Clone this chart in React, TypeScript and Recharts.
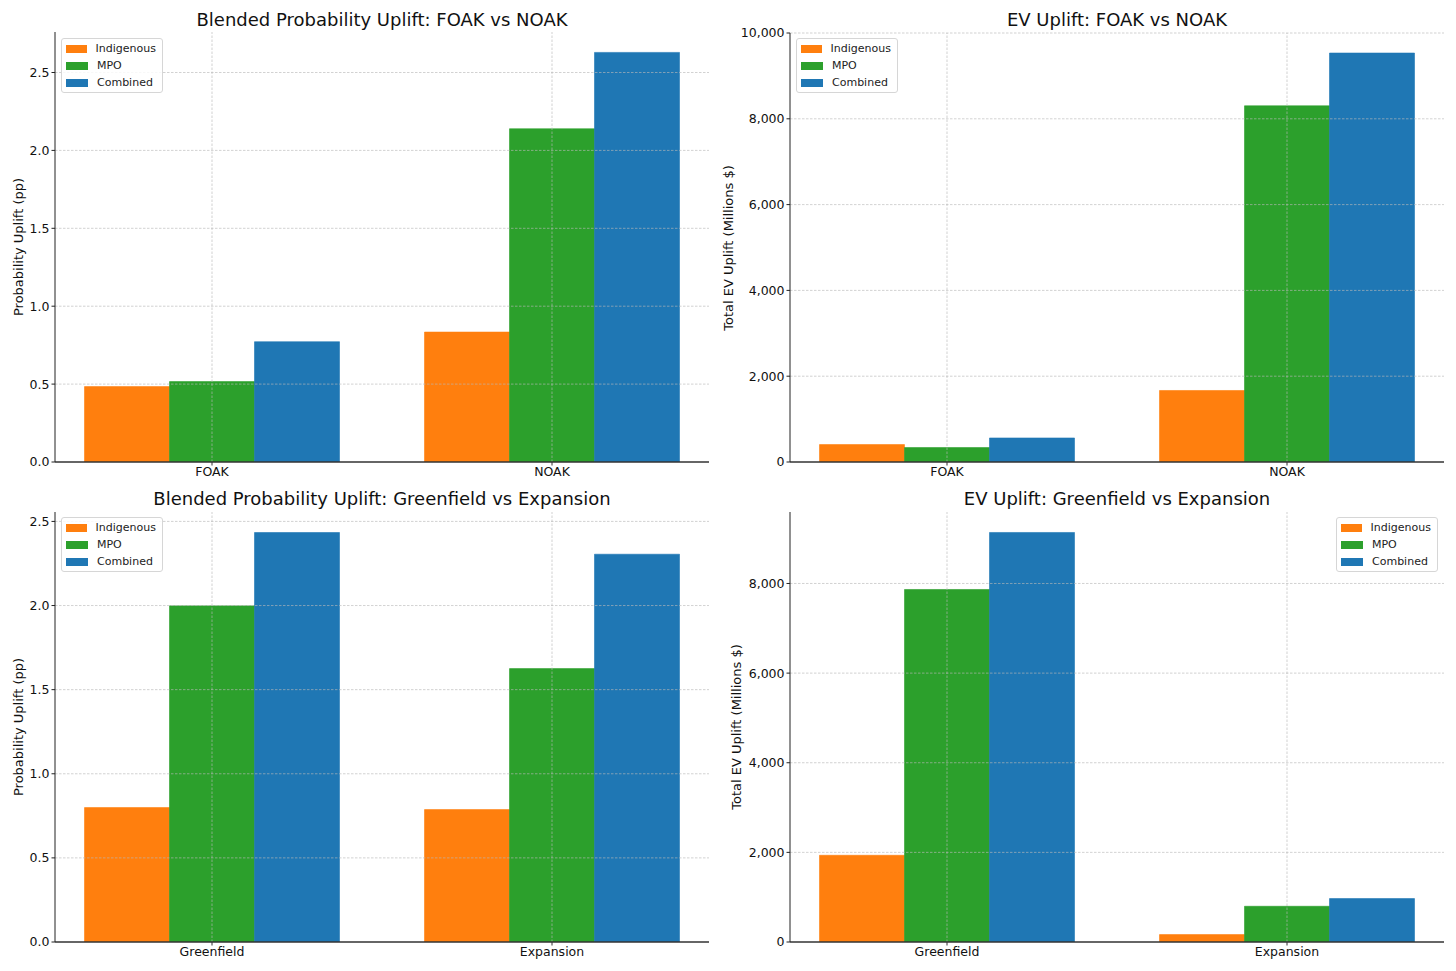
import React from "react";
import { BarChart, Bar, XAxis, YAxis, ReferenceLine, Legend } from "recharts";

const SERIES = ["Indigenous", "MPO", "Combined"];
const COLORS = ["#ff7f0e", "#2ca02c", "#1f77b4"];
const FONT = "'DejaVu Sans', sans-serif";

// FOAK vs NOAK
const PHASE_CATS = ["FOAK", "NOAK"];
const PHASE_PROB_INDIGENOUS = [0.484, 0.834];
const PHASE_PROB_MPO = [0.516, 2.139];
const PHASE_PROB_COMBINED = [0.772, 2.629];
const PHASE_EV_INDIGENOUS = [406, 1667];
const PHASE_EV_MPO = [336, 8303];
const PHASE_EV_COMBINED = [560, 9533];

// Greenfield vs Expansion
const SITE_CATS = ["Greenfield", "Expansion"];
const SITE_PROB_INDIGENOUS = [0.799, 0.787];
const SITE_PROB_MPO = [1.998, 1.625];
const SITE_PROB_COMBINED = [2.434, 2.305];
const SITE_EV_INDIGENOUS = [1935, 165];
const SITE_EV_MPO = [7866, 797];
const SITE_EV_COMBINED = [9138, 969];

const PROB_TICKS = [0, 0.5, 1, 1.5, 2, 2.5];
const EV_TICKS_TOP = [0, 2000, 4000, 6000, 8000, 10000];
const EV_TICKS_BOTTOM = [0, 2000, 4000, 6000, 8000];

const rows = (cats: string[], a: number[], b: number[], c: number[]) =>
  cats.map((name, i) => ({ name, Indigenous: a[i], MPO: b[i], Combined: c[i] }));

const fmtProb = (v: number) => v.toFixed(1);
const fmtEv = (v: number) => v.toLocaleString("en-US");

function LegendBox({ payload }: any) {
  // keep the plotting order, not recharts' sorted order
  const items = [...(payload || [])].sort(
    (a: any, b: any) => SERIES.indexOf(a.value) - SERIES.indexOf(b.value)
  );
  return (
    <div
      style={{
        border: "1px solid #d6d6d6",
        borderRadius: 3,
        background: "rgba(255,255,255,0.85)",
        padding: "1px 6px 1px 4px",
        width: 102,
        boxSizing: "border-box",
        fontFamily: FONT,
        fontSize: 11,
        color: "#222",
      }}
    >
      {items.map((p: any) => (
        <div key={p.value} style={{ display: "flex", alignItems: "center", height: 17 }}>
          <span style={{ width: 22, height: 8, background: p.color, marginRight: 9 }} />
          <span>{p.value}</span>
        </div>
      ))}
    </div>
  );
}

type PanelProps = {
  left: number;
  top: number;
  height: number;
  marginTop: number;
  marginBottom: number;
  yWidth: number;
  marginLeft: number;
  marginRight: number;
  title: string;
  titleTop: number;
  yLabel: string;
  yLabelX: number;
  data: any[];
  cats: string[];
  domain: [number, number];
  ticks: number[];
  fmt: (v: number) => string;
  legendLeft: number;
  legendTop: number;
};

function Panel(p: PanelProps) {
  const width = 728;
  const plotLeft = p.marginLeft + p.yWidth;
  const plotWidth = width - plotLeft - p.marginRight;
  const plotTop = p.marginTop;
  const plotBottom = p.height - p.marginBottom - 24;
  return (
    <div style={{ position: "absolute", left: p.left, top: p.top, width, height: p.height }}>
      <BarChart
        width={width}
        height={p.height}
        data={p.data}
        margin={{ top: p.marginTop, right: p.marginRight, bottom: p.marginBottom, left: p.marginLeft }}
        barCategoryGap="12.5%"
        barGap={0}
      >
        <XAxis
          dataKey="name"
          height={24}
          padding={{ left: -13, right: -13 }}
          tickSize={3.5}
          tickMargin={2}
          stroke="#333"
          axisLine={{ stroke: "#333", strokeWidth: 1.3 }}
          tick={{ fill: "#111", fontSize: 12.5, fontFamily: FONT }}
        />
        <YAxis
          width={p.yWidth}
          domain={p.domain}
          ticks={p.ticks}
          allowDataOverflow
          tickFormatter={p.fmt}
          tickSize={3.5}
          tickMargin={2}
          stroke="#222"
          axisLine={{ stroke: "#222", strokeWidth: 1 }}
          tick={{ fill: "#111", fontSize: 12.5, fontFamily: FONT }}
        />
        {SERIES.map((s, i) => (
          <Bar
            key={s}
            dataKey={s}
            name={s}
            fill={COLORS[i]}
            stroke={COLORS[i]}
            strokeWidth={0.6}
            isAnimationActive={false}
          />
        ))}
        {p.ticks
          .filter((t) => t > 0)
          .map((t) => (
            <ReferenceLine
              key={"y" + t}
              y={t}
              stroke="#b8b8b8"
              strokeOpacity={0.8}
              strokeWidth={0.8}
              strokeDasharray="2.5 1.5"
            />
          ))}
        {p.cats.map((c) => (
          <ReferenceLine
            key={"x" + c}
            x={c}
            stroke="#b8b8b8"
            strokeOpacity={0.8}
            strokeWidth={0.8}
            strokeDasharray="2.5 1.5"
          />
        ))}
        <Legend
          layout="vertical"
          align="center"
          verticalAlign="middle"
          content={<LegendBox />}
          wrapperStyle={{ left: p.legendLeft, top: p.legendTop, width: "auto", height: "auto" }}
        />
      </BarChart>
      <div
        style={{
          position: "absolute",
          left: plotLeft,
          width: plotWidth,
          top: p.titleTop,
          textAlign: "center",
          fontFamily: FONT,
          fontSize: 18,
          lineHeight: "18px",
          color: "#111",
          whiteSpace: "nowrap",
        }}
      >
        {p.title}
      </div>
      <div
        style={{
          position: "absolute",
          left: p.yLabelX,
          top: (plotTop + plotBottom) / 2,
          transform: "translate(-50%, -50%) rotate(-90deg)",
          fontFamily: FONT,
          fontSize: 13,
          color: "#111",
          whiteSpace: "nowrap",
        }}
      >
        {p.yLabel}
      </div>
    </div>
  );
}

export default function App() {
  return (
    <div style={{ position: "absolute", left: 0, top: 0, width: 1456, height: 971, background: "#fff", overflow: "hidden" }}>
      <Panel
        left={0}
        top={0}
        height={490}
        marginTop={32}
        marginBottom={4}
        yWidth={45}
        marginLeft={10}
        marginRight={19}
        title="Blended Probability Uplift: FOAK vs NOAK"
        titleTop={11}
        yLabel="Probability Uplift (pp)"
        yLabelX={18}
        data={rows(PHASE_CATS, PHASE_PROB_INDIGENOUS, PHASE_PROB_MPO, PHASE_PROB_COMBINED)}
        cats={PHASE_CATS}
        domain={[0, 2.76]}
        ticks={PROB_TICKS}
        fmt={fmtProb}
        legendLeft={61}
        legendTop={38}
      />
      <Panel
        left={728}
        top={0}
        height={490}
        marginTop={33}
        marginBottom={4}
        yWidth={50}
        marginLeft={12}
        marginRight={12}
        title="EV Uplift: FOAK vs NOAK"
        titleTop={11}
        yLabel="Total EV Uplift (Millions $)"
        yLabelX={0}
        data={rows(PHASE_CATS, PHASE_EV_INDIGENOUS, PHASE_EV_MPO, PHASE_EV_COMBINED)}
        cats={PHASE_CATS}
        domain={[0, 10000]}
        ticks={EV_TICKS_TOP}
        fmt={fmtEv}
        legendLeft={68}
        legendTop={38}
      />
      <Panel
        left={0}
        top={485}
        height={486}
        marginTop={27}
        marginBottom={5}
        yWidth={45}
        marginLeft={10}
        marginRight={19}
        title="Blended Probability Uplift: Greenfield vs Expansion"
        titleTop={5}
        yLabel="Probability Uplift (pp)"
        yLabelX={18}
        data={rows(SITE_CATS, SITE_PROB_INDIGENOUS, SITE_PROB_MPO, SITE_PROB_COMBINED)}
        cats={SITE_CATS}
        domain={[0, 2.556]}
        ticks={PROB_TICKS}
        fmt={fmtProb}
        legendLeft={61}
        legendTop={32}
      />
      <Panel
        left={728}
        top={485}
        height={486}
        marginTop={27}
        marginBottom={5}
        yWidth={50}
        marginLeft={12}
        marginRight={12}
        title="EV Uplift: Greenfield vs Expansion"
        titleTop={5}
        yLabel="Total EV Uplift (Millions $)"
        yLabelX={8}
        data={rows(SITE_CATS, SITE_EV_INDIGENOUS, SITE_EV_MPO, SITE_EV_COMBINED)}
        cats={SITE_CATS}
        domain={[0, 9595]}
        ticks={EV_TICKS_BOTTOM}
        fmt={fmtEv}
        legendLeft={608}
        legendTop={32}
      />
    </div>
  );
}
